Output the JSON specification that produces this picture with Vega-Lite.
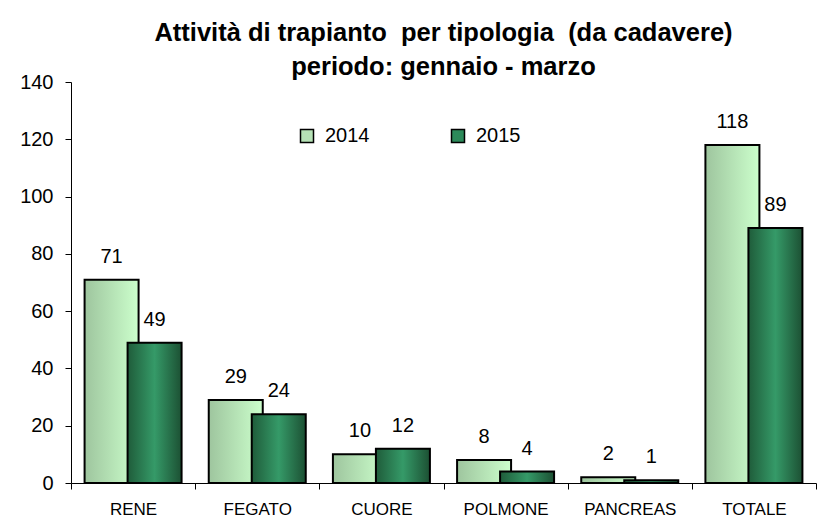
{
  "$schema": "https://vega.github.io/schema/vega-lite/v6.json",
  "autosize": {"type": "none"},
  "width": 745,
  "height": 401,
  "padding": {"left": 71, "top": 82, "right": 24, "bottom": 41},
  "background": "white",
  "title": {
    "text": ["Attività di trapianto\u00a0 per tipologia\u00a0 (da cadavere)", "periodo: gennaio - marzo"],
    "anchor": "middle",
    "frame": "group",
    "baseline": "bottom",
    "font": "Liberation Sans",
    "fontSize": 25.5,
    "fontWeight": "bold",
    "lineHeight": 34,
    "color": "black",
    "offset": 0,
    "dy": 33
  },
  "data": {
    "values": [
      {"organo": "RENE", "anno": "2014", "valore": 71},
      {"organo": "RENE", "anno": "2015", "valore": 49},
      {"organo": "FEGATO", "anno": "2014", "valore": 29},
      {"organo": "FEGATO", "anno": "2015", "valore": 24},
      {"organo": "CUORE", "anno": "2014", "valore": 10},
      {"organo": "CUORE", "anno": "2015", "valore": 12},
      {"organo": "POLMONE", "anno": "2014", "valore": 8},
      {"organo": "POLMONE", "anno": "2015", "valore": 4},
      {"organo": "PANCREAS", "anno": "2014", "valore": 2},
      {"organo": "PANCREAS", "anno": "2015", "valore": 1},
      {"organo": "TOTALE", "anno": "2014", "valore": 118},
      {"organo": "TOTALE", "anno": "2015", "valore": 89}
    ]
  },
  "encoding": {
    "x": {
      "field": "organo",
      "type": "nominal",
      "sort": ["RENE", "FEGATO", "CUORE", "POLMONE", "PANCREAS", "TOTALE"],
      "scale": {"paddingInner": 0, "paddingOuter": 0},
      "axis": {
        "title": null,
        "labelAngle": 0,
        "labelFont": "Liberation Sans",
        "labelFontSize": 17,
        "labelColor": "black",
        "labelPadding": 12,
        "tickBand": "extent",
        "tickSize": 6,
        "tickColor": "black",
        "domainColor": "black",
        "grid": false
      }
    },
    "y": {
      "field": "valore",
      "type": "quantitative",
      "stack": null,
      "scale": {"domain": [0, 140], "nice": false},
      "axis": {
        "title": null,
        "values": [0, 20, 40, 60, 80, 100, 120, 140],
        "labelFont": "Liberation Sans",
        "labelFontSize": 20,
        "labelColor": "black",
        "labelPadding": 12,
        "tickSize": 6,
        "tickColor": "black",
        "domainColor": "black",
        "grid": false
      }
    }
  },
  "layer": [
    {
      "mark": {"type": "bar", "width": 54, "opacity": 0},
      "encoding": {
        "color": {
          "field": "anno",
          "type": "nominal",
          "scale": {"domain": ["2014", "2015"], "range": ["#b6e2b6", "#2c8a5a"]},
          "legend": {
            "title": null,
            "orient": "none",
            "direction": "horizontal",
            "legendX": 226,
            "legendY": 44,
            "symbolType": "square",
            "symbolSize": 169,
            "symbolOpacity": 1,
            "symbolStrokeColor": "black",
            "symbolStrokeWidth": 1.5,
            "labelFont": "Liberation Sans",
            "labelFontSize": 20,
            "labelColor": "black",
            "labelOffset": 8,
            "columnPadding": 78
          }
        }
      }
    },
    {
      "transform": [{"filter": "datum.anno === '2014'"}],
      "mark": {
        "type": "bar", "width": 54, "xOffset": -21.5, "stroke": "black", "strokeWidth": 2,
        "fill": {"gradient": "linear", "x1": 0, "y1": 0, "x2": 1, "y2": 0, "stops": [{"offset": 0, "color": "#9ec59e"}, {"offset": 1, "color": "#ccffcc"}]}
      }
    },
    {
      "transform": [{"filter": "datum.anno === '2015'"}],
      "mark": {
        "type": "bar", "width": 54, "xOffset": 21.5, "stroke": "black", "strokeWidth": 2,
        "fill": {"gradient": "linear", "x1": 0, "y1": 0, "x2": 1, "y2": 0, "stops": [{"offset": 0, "color": "#1f5c3a"}, {"offset": 0.5, "color": "#359a68"}, {"offset": 1, "color": "#1c5033"}]}
      }
    },
    {
      "transform": [{"filter": "datum.anno === '2014'"}],
      "mark": {"type": "text", "xOffset": -21.5, "dy": -17, "baseline": "alphabetic", "font": "Liberation Sans", "fontSize": 20, "color": "black"},
      "encoding": {"text": {"field": "valore", "type": "quantitative"}}
    },
    {
      "transform": [{"filter": "datum.anno === '2015'"}],
      "mark": {"type": "text", "xOffset": 21.5, "dy": -17, "baseline": "alphabetic", "font": "Liberation Sans", "fontSize": 20, "color": "black"},
      "encoding": {"text": {"field": "valore", "type": "quantitative"}}
    }
  ],
  "config": {
    "view": {"stroke": null}
  }
}
